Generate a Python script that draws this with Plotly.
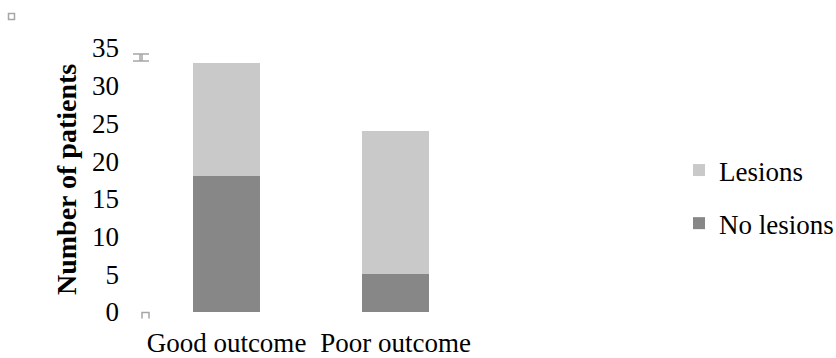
import plotly.graph_objects as go

# Patient counts by outcome, split by presence of lesions
outcomes = ["Good outcome", "Poor outcome"]
no_lesions = [18, 5]
lesions = [15, 19]
y_ticks = [0, 5, 10, 15, 20, 25, 30, 35]

FONT = "Liberation Serif"
W, H = 836, 358
M_L, M_R, M_T, M_B = 142, 356, 48, 46
PW, PH = W - M_L - M_R, H - M_T - M_B


def px_x(px):
    """Convert a page pixel x position to paper coordinates."""
    return (px - M_L) / PW


def px_y(py):
    """Convert a page pixel y position to paper coordinates."""
    return (H - M_B - py) / PH


fig = go.Figure()
fig.add_trace(go.Bar(
    x=outcomes, y=no_lesions, name="No lesions",
    marker=dict(color="#878787", line=dict(width=0)),
    width=0.4, legendgroup="b", legendrank=2,
))
fig.add_trace(go.Bar(
    x=outcomes, y=lesions, name="Lesions",
    marker=dict(color="#c9c9c9", line=dict(width=0)),
    width=0.4, legendgroup="a", legendrank=1,
))

# Small grey editing marks around the chart frame
grey = "#a6a6a6"
shapes = [
    dict(type="rect", xref="paper", yref="paper",
         x0=px_x(8.5), x1=px_x(14.5), y0=px_y(19.5), y1=px_y(13.5),
         line=dict(color=grey, width=1.5)),
    dict(type="path", xref="paper", yref="paper",
         path="M {a},{b} L {c},{b} M {a},{d} L {c},{d} M {e},{b} L {e},{d} M {f},{b} L {f},{d}".format(
             a=px_x(133), c=px_x(149), b=px_y(54), d=px_y(61), e=px_x(140), f=px_x(142)),
         line=dict(color=grey, width=1.5)),
    dict(type="path", xref="paper", yref="paper",
         path="M {a},{d} L {a},{b} L {c},{b} L {c},{d}".format(
             a=px_x(142), c=px_x(149), b=px_y(312.5), d=px_y(318.5)),
         line=dict(color=grey, width=1.5)),
]

fig.update_layout(
    width=W, height=H,
    margin=dict(l=M_L, r=M_R, t=M_T, b=M_B, autoexpand=False),
    barmode="stack",
    paper_bgcolor="white", plot_bgcolor="white",
    font=dict(family=FONT, size=27, color="black"),
    showlegend=True,
    legend=dict(
        x=px_x(679), xanchor="left",
        y=px_y(146), yanchor="top",
        traceorder="grouped",
        tracegroupgap=15,
        font=dict(family=FONT, size=27, color="black"),
        bgcolor="rgba(0,0,0,0)",
    ),
    xaxis=dict(
        showline=False, showgrid=False, zeroline=False, automargin=False,
        ticks="", ticklabelstandoff=12,
        tickfont=dict(family=FONT, size=27, color="black"),
    ),
    yaxis=dict(
        range=[0, 35], tickvals=y_ticks, automargin=False,
        showline=False, showgrid=False, zeroline=False,
        ticks="", ticklabelstandoff=22,
        tickfont=dict(family=FONT, size=27, color="black"),
    ),
    shapes=shapes,
    annotations=[dict(
        text="<b>Number of patients</b>", textangle=-90,
        xref="paper", yref="paper",
        x=px_x(66), y=px_y(180), xanchor="center", yanchor="middle",
        showarrow=False,
        font=dict(family=FONT, size=28, color="black"),
    )],
)

fig.write_html("out.html")
